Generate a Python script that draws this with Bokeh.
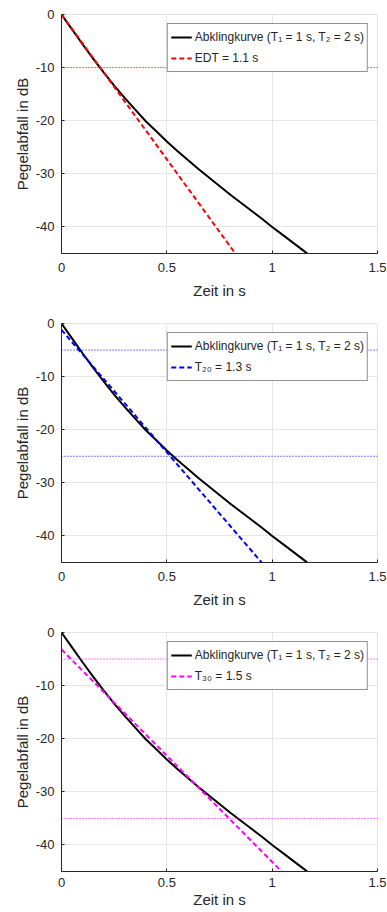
from bokeh.plotting import figure
from bokeh.layouts import column
from bokeh.models import Range1d, FixedTicker, Span, Legend, LegendItem
from bokeh.embed import file_html
from bokeh.resources import INLINE

# ---------------- data ----------------
t_curve = [0.0, 0.05, 0.10, 0.15, 0.20, 0.25, 0.30, 0.35, 0.40, 0.45, 0.50,
           0.55, 0.60, 0.65, 0.70, 0.75, 0.80, 0.85, 0.90, 0.95, 1.00,
           1.05, 1.10, 1.15, 1.17]
L_curve = [0.0, -2.8, -5.6, -8.3, -10.9, -13.4, -15.7, -17.9, -20.1, -22.0, -23.9,
           -25.7, -27.4, -29.1, -30.7, -32.3, -33.9, -35.4, -36.9, -38.4, -40.0,
           -41.5, -43.0, -44.5, -45.1]

edt_t = [0.0, 0.825]
edt_L = [0.0, -45.0]
t20_t = [0.0, 0.95]
t20_L = [-1.2, -45.0]
t30_t = [0.0, 1.045]
t30_L = [-3.2, -45.0]

edt_levels = [-10]
t20_levels = [-5, -25]
t30_levels = [-5, -35]

x_ticks = [0, 0.5, 1, 1.5]
x_tick_labels = ["0", "0.5", "1", "1.5"]
y_ticks = [-40, -30, -20, -10, 0]
y_tick_labels = ["-40", "-30", "-20", "-10", "0"]

curve_label = "Abklingkurve (T\u2081 = 1 s, T\u2082 = 2 s)"
panels = [
    (edt_t, edt_L, edt_levels, "#ff0000", "EDT = 1.1 s"),
    (t20_t, t20_L, t20_levels, "#0000ff", "T\u2082\u2080 = 1.3 s"),
    (t30_t, t30_L, t30_levels, "#ff00ff", "T\u2083\u2080 = 1.5 s"),
]

FONT = "Liberation Sans"
TXT = "#262626"


def make_panel(fit_t, fit_L, levels, color, label, height, top, bottom,
               x_std, x_lab_std):
    p = figure(width=387, height=height, output_backend="svg", toolbar_location=None,
               x_range=Range1d(0, 1.5), y_range=Range1d(-45, 0),
               min_border_left=61, min_border_right=10, min_border_top=top,
               min_border_bottom=bottom)
    p.background_fill_color = "white"
    p.border_fill_color = "white"
    p.outline_line_color = "#e3e3e3"
    p.grid.grid_line_color = "#e6e6e6"
    p.xaxis.ticker = FixedTicker(ticks=x_ticks)
    p.yaxis.ticker = FixedTicker(ticks=y_ticks)
    p.xaxis.major_label_overrides = dict(zip(x_ticks, x_tick_labels))
    p.yaxis.major_label_overrides = dict(zip(y_ticks, y_tick_labels))
    for ax in (p.xaxis, p.yaxis):
        ax.axis_line_color = TXT
        ax.major_tick_line_color = TXT
        ax.major_tick_in = 3
        ax.major_tick_out = 0
        ax.minor_tick_line_color = None
        ax.major_label_text_font = FONT
        ax.major_label_text_font_size = "13px"
        ax.major_label_text_color = TXT
        ax.axis_label_text_font = FONT
        ax.axis_label_text_font_size = "15px"
        ax.axis_label_text_font_style = "normal"
        ax.axis_label_text_color = TXT
    p.xaxis.axis_label = "Zeit in s"
    p.yaxis.axis_label = "Pegelabfall in dB"
    p.xaxis.major_label_standoff = x_std
    p.xaxis.axis_label_standoff = x_lab_std
    p.yaxis.major_label_standoff = 7
    p.yaxis.axis_label_standoff = 2

    for lv in levels:
        p.add_layout(Span(location=lv, dimension="width", line_color=color,
                          line_width=1, line_dash="1 2", line_alpha=1.0))

    r_curve = p.line(t_curve, L_curve, line_color="black", line_width=2)
    r_fit = p.line(fit_t, fit_L, line_color=color, line_width=2, line_dash="5 3")

    legend = Legend(items=[LegendItem(label=curve_label, renderers=[r_curve]),
                           LegendItem(label=label, renderers=[r_fit])],
                    location="top_right")
    legend.margin = 9
    legend.padding = 3
    legend.spacing = 1
    legend.glyph_width = 21
    legend.glyph_height = 20
    legend.label_standoff = 3
    legend.label_height = 20
    legend.label_text_font = FONT
    legend.label_text_font_size = "12px"
    legend.label_text_color = TXT
    legend.border_line_color = TXT
    legend.border_line_width = 1
    legend.background_fill_color = "white"
    legend.background_fill_alpha = 1
    p.add_layout(legend, "center")
    return p


figs = []
for i, (ft, fl, lv, col, lab) in enumerate(panels):
    if i < 2:
        figs.append(make_panel(ft, fl, lv, col, lab, 309, 14, 56, 9, 7))
    else:
        figs.append(make_panel(ft, fl, lv, col, lab, 294, 14, 41, 6, 1))

layout = column(*figs, spacing=0)
open("out.html", "w").write(file_html(layout, INLINE))
